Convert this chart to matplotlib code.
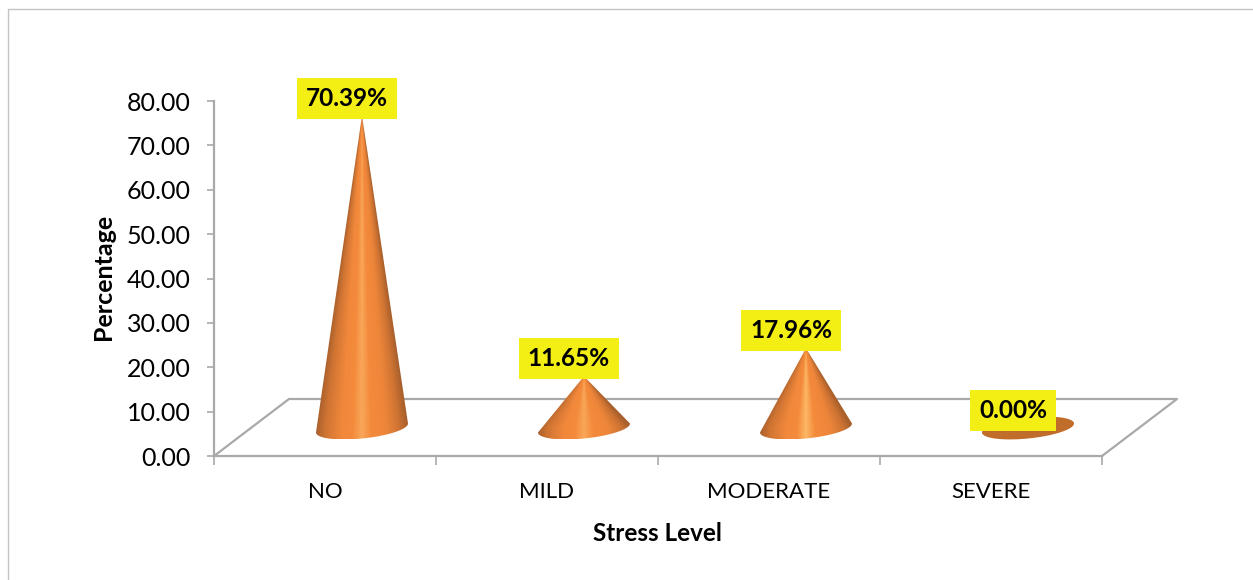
import numpy as np
import matplotlib
matplotlib.use("Agg")
from matplotlib import pyplot as plt
from matplotlib.colors import LinearSegmentedColormap
from matplotlib.lines import Line2D
from matplotlib.patches import PathPatch
from matplotlib.path import Path

plt.rcParams['font.family'] = ['Lato', 'DejaVu Sans']

categories = ['NO', 'MILD', 'MODERATE', 'SEVERE']
values = [70.39, 11.65, 17.96, 0.00]
value_labels = ['70.39%', '11.65%', '17.96%', '0.00%']
y_ticks = [0, 10, 20, 30, 40, 50, 60, 70, 80]

W, H = 1253, 580
GREY = '#a9a9a9'
YELLOW = '#f3ee14'

fig = plt.figure(figsize=(W / 100, H / 100), dpi=100)
# оси подогнаны под пиксели оригинала
ax = fig.add_axes([214 / W, 1 - 456 / H, 888 / W, 355 / H])

px_x = 888 / 4      # пикселей на категорию
px_y = 355 / 80     # пикселей на единицу значения

# пол псевдо-3D
depth_x, depth_y = 75 / px_x, 57 / px_y
ax.plot([-0.5, -0.5 + depth_x, 3.5 + depth_x, 3.5],
        [0, depth_y, depth_y, 0], color=GREY, lw=1.6, clip_on=False, zorder=1)

# конусы
shift_x, base_y = 37 / px_x, 28 / px_y
t = np.linspace(0, -np.pi, 60)
for i, v in enumerate(values):
    cx = i + shift_x
    ex = cx + 46 * np.cos(t) / px_x
    ey = base_y + (4.5 * np.cos(t) + 10.5 * np.sin(t)) / px_y
    if v > 0:
        light = '#fdb865' if i == 2 else '#f9a75a'
        cmap = LinearSegmentedColormap.from_list(
            'cone', [(0, '#a9602c'), (0.1, '#cf7433'), (0.28, '#f1883b'), (0.4, '#f48a3b'),
                     (0.5, light), (0.6, '#f48a3b'), (0.76, '#ee863a'),
                     (0.9, '#cf7433'), (1, '#a9602c')])
        verts = [(cx, base_y + v)] + list(zip(ex, ey)) + [(cx, base_y + v)]
        codes = [Path.MOVETO] + [Path.LINETO] * (len(verts) - 2) + [Path.CLOSEPOLY]
        clip = PathPatch(Path(verts, codes), transform=ax.transData, fc='none', ec='none')
        ax.add_patch(clip)
        # градиент сужается вместе с конусом
        gx = np.linspace(-1, 1, 300)
        gy = np.linspace(ey.min(), base_y + v, 400)
        width = np.clip((base_y + v - gy) / v, 0.005, 1)
        grad = np.clip(gx[None, :] / width[:, None], -1, 1) / 2 + 0.5
        img = ax.imshow(grad, cmap=cmap, aspect='auto', origin='lower',
                        extent=(cx - 46 / px_x, cx + 46 / px_x, ey.min(), base_y + v),
                        zorder=3, interpolation='bilinear')
        img.set_clip_path(clip)
    else:
        tt = np.linspace(0, 2 * np.pi, 120)
        ax.fill(cx + 46 * np.cos(tt) / px_x,
                base_y + (4.5 * np.cos(tt) + 10.5 * np.sin(tt)) / px_y,
                color='#c06c2a', lw=0, zorder=3)
    ax.annotate(value_labels[i], xy=(cx, base_y + v), xytext=(-15 * 0.72, 17.5 * 0.72),
                textcoords='offset points', ha='center', va='center',
                fontsize=17.6, fontweight='bold', color='black', zorder=5,
                bbox=dict(boxstyle='square,pad=0.37', fc=YELLOW, ec='none'))

ax.set_xlim(-0.5, 3.5)
ax.set_ylim(0, 80)

ax.set_yticks(y_ticks)
ax.set_yticklabels(['%.2f' % y for y in y_ticks], fontsize=18)
ax.set_xticks(range(len(categories)))
ax.set_xticklabels(categories, fontsize=16)
ax.set_xticks(np.arange(-0.5, 4), minor=True)
ax.tick_params(axis='x', which='major', length=0, pad=19)
ax.tick_params(axis='x', which='minor', length=6.5, width=1.2, color=GREY)
ax.tick_params(axis='y', length=5, width=1.2, color=GREY, pad=12)

ax.set_xlabel('Stress Level', fontsize=17.5, fontweight='bold')
ax.xaxis.set_label_coords(0.4995, -0.186)
ax.set_ylabel('Percentage', fontsize=18, fontweight='bold')
ax.yaxis.set_label_coords(-0.1115, 0.505)

for side in ['top', 'right']:
    ax.spines[side].set_visible(False)
for side in ['left', 'bottom']:
    ax.spines[side].set_color(GREY)
    ax.spines[side].set_linewidth(1.6)
ax.patch.set_alpha(0)

# рамка картинки слева и сверху
fig.add_artist(Line2D([7.5 / W, 7.5 / W, 1], [0, 1 - 8.5 / H, 1 - 8.5 / H],
                      color='#c4c4c4', lw=1))

fig.savefig('out.png', dpi=100)
